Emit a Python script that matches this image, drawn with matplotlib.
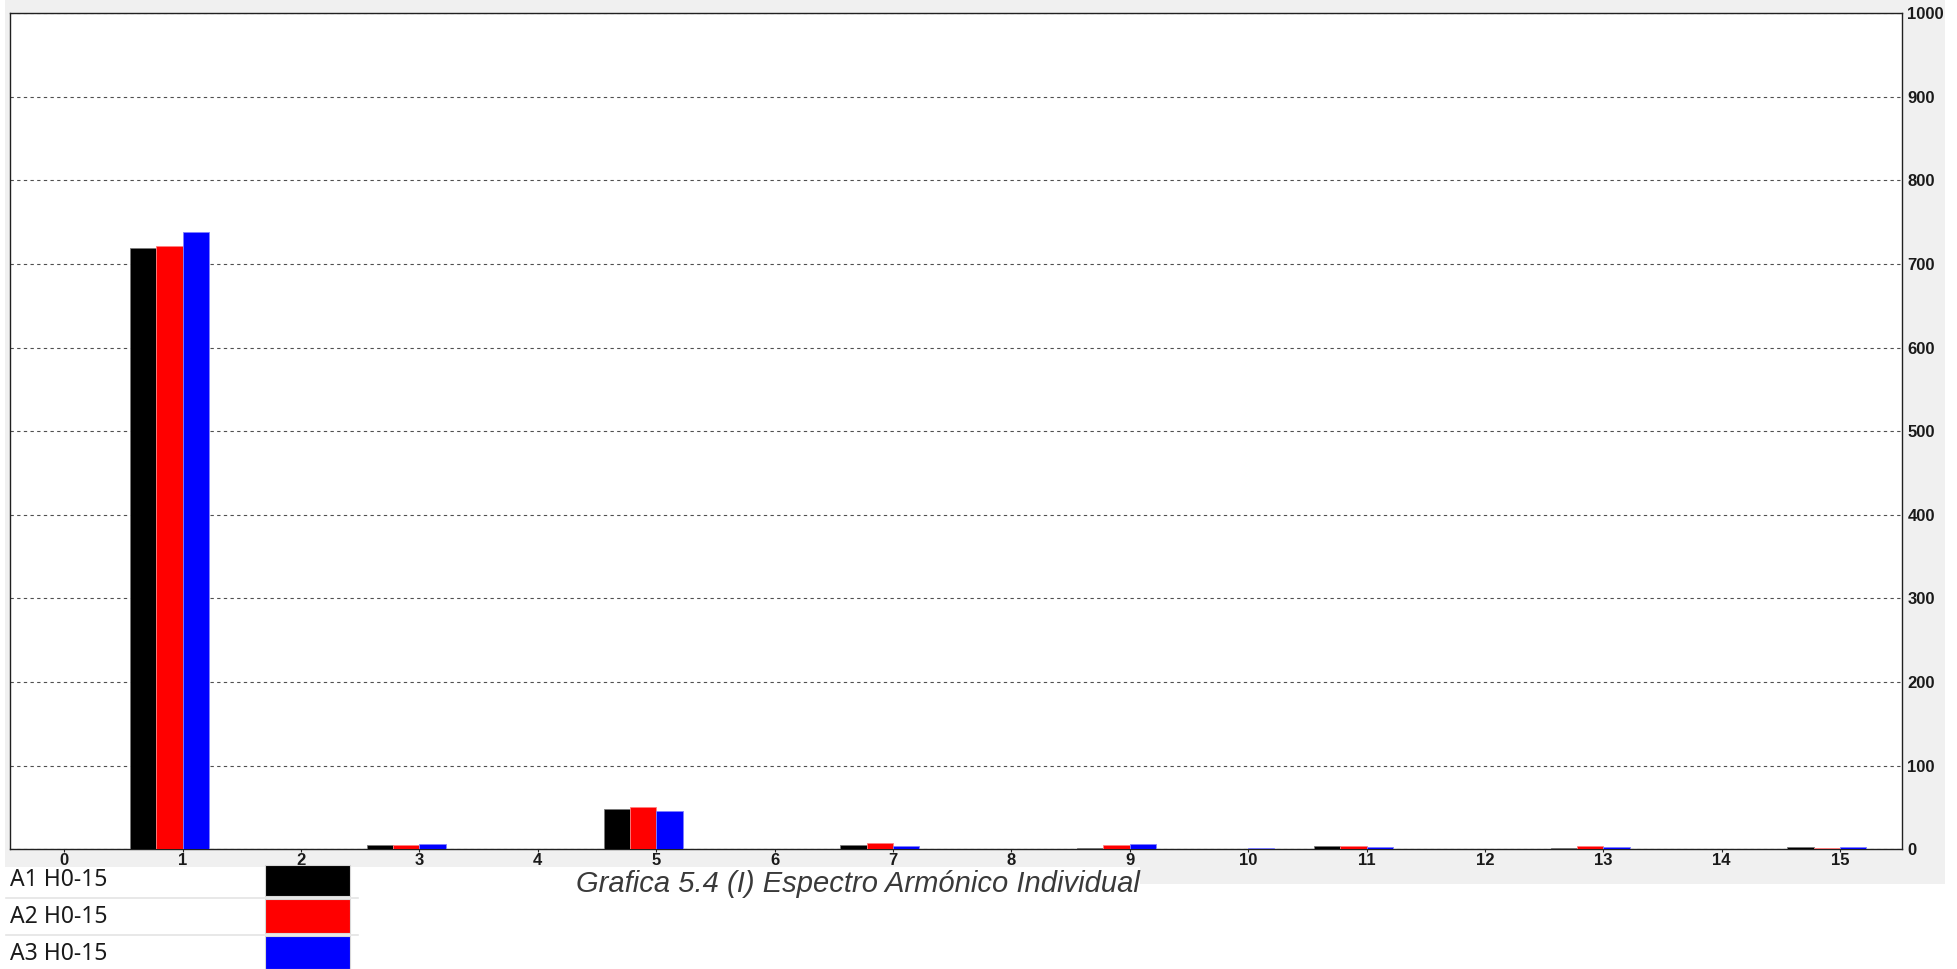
import matplotlib.pyplot as plt
from matplotlib.patches import Rectangle

# harmonic orders and amplitudes per channel
harmonics = list(range(16))
a1 = [0, 719, 0, 5, 0, 48.5, 0, 5, 0, 2, 0, 4, 0, 2, 0, 2.5]
a2 = [0, 721, 0, 5, 0, 50, 0, 7.5, 0, 5, 0, 4, 0, 4, 0, 2]
a3 = [0, 738, 0, 6.5, 0, 46, 0, 4, 0, 6, 2, 2.5, 0, 2.5, 0, 2.5]
series_names = ['A1 H0-15', 'A2 H0-15', 'A3 H0-15']
y_ticks = list(range(0, 1001, 100))
caption = 'Grafica 5.4 (I) Espectro Armónico Individual'

colors = ['#000000', '#ff0000', '#0000ff']
edges = ['#7a7a7a', '#ff8080', '#8080ff']

W, H = 1958, 969
fig = plt.figure(figsize=(W / 100, H / 100), dpi=100, facecolor='white')


def fx(px):
    return px / W


def fy(py):
    return 1 - py / H


# grey window behind the chart, white strip for legend and caption
fig.add_artist(Rectangle((fx(5), fy(884)), fx(1945) - fx(5), fy(0) - fy(884),
                         transform=fig.transFigure, facecolor='#f0f0f0',
                         edgecolor='none', zorder=-2))
fig.add_artist(Rectangle((0, fy(969)), fx(1140), fy(867) - fy(969),
                         transform=fig.transFigure, facecolor='white',
                         edgecolor='none', zorder=-1))

ax = fig.add_axes([fx(10), fy(849.3), fx(1901.7) - fx(10), fy(13) - fy(849.3)])
ax.set_facecolor('white')

# three bars per harmonic; the tick sits between the red and blue bar
w = 0.222
for k, vals in enumerate([a1, a2, a3]):
    xs = [h + (k - 1.5) * w for h in harmonics]
    ax.bar(xs, vals, width=w, color=colors[k], edgecolor=edges[k],
           linewidth=0.6, zorder=3)

ax.set_xlim(-0.459, 15.521)
ax.set_ylim(0, 1000)
ax.set_xticks(harmonics)
ax.set_yticks(y_ticks)
ax.yaxis.tick_right()
ax.grid(axis='y', color='#505050', linestyle=(0, (3, 3)), linewidth=0.8, zorder=1)
ax.grid(axis='x', visible=False)

tick_font = dict(family=['Liberation Sans Narrow', 'Liberation Sans'], weight='bold', size=12)
ax.set_xticklabels([str(h) for h in harmonics], **tick_font, color='#1a1a1a')
ax.set_yticklabels([str(v) for v in y_ticks], **tick_font, color='#1a1a1a')
ax.tick_params(axis='x', length=2.5, width=0.8, pad=0.5, color='#202020')
ax.tick_params(axis='y', length=0, pad=4)
for s in ax.spines.values():
    s.set_color('#202020')
    s.set_linewidth(1.0)

# legend table in the lower left corner
swatch_rows = [(865, 896), (899, 933), (936, 969)]
text_rows = [880, 917, 954]
for name, c, (top, bot), ty in zip(series_names, colors, swatch_rows, text_rows):
    fig.text(fx(10), fy(ty), name, family='Noto Sans', size=16.5,
             color='#1a1a1a', va='center', ha='left')
    fig.add_artist(Rectangle((fx(265), fy(bot)), fx(350) - fx(265), fy(top) - fy(bot),
                             transform=fig.transFigure, facecolor=c,
                             edgecolor='#d8d8d8', linewidth=0.8))
for y in [898, 935]:
    fig.add_artist(plt.Line2D([fx(6), fx(358)], [fy(y), fy(y)], transform=fig.transFigure,
                              color='#e4e4e4', linewidth=1.2))

fig.text(fx(576), fy(884), caption, family='Liberation Sans', style='italic',
         size=21, color='#3a3a3a', va='center', ha='left')

fig.savefig('out.png', dpi=100, facecolor='white')
